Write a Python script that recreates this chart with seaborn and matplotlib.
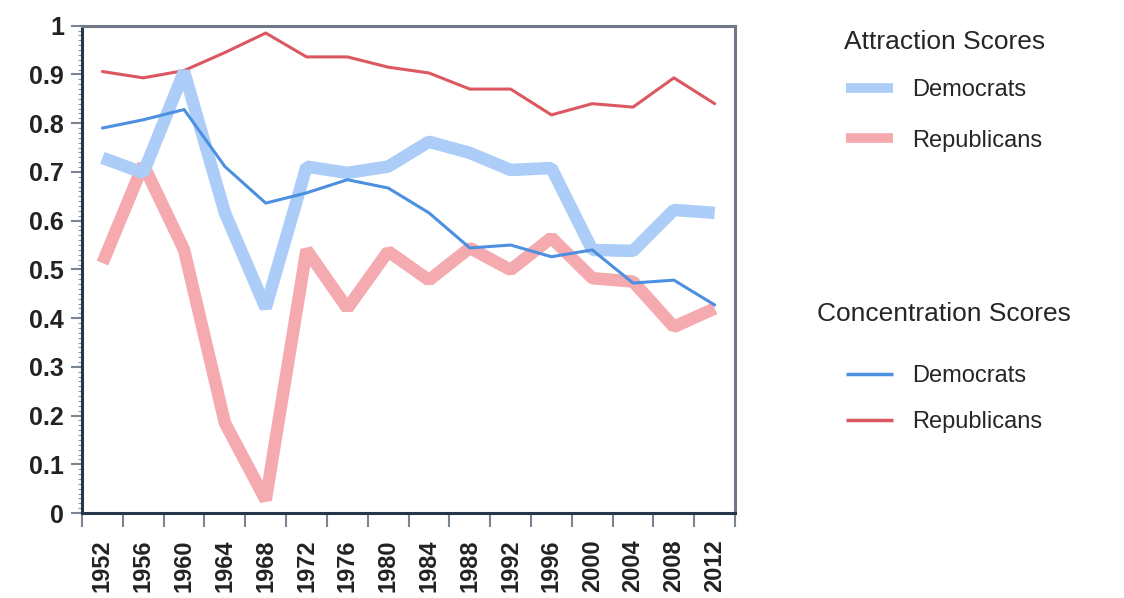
import numpy as np
import pandas as pd
import matplotlib
matplotlib.use("Agg")
import matplotlib.pyplot as plt
from matplotlib.lines import Line2D
from matplotlib.ticker import MultipleLocator, FuncFormatter
import seaborn as sns

years = [1952, 1956, 1960, 1964, 1968, 1972, 1976, 1980,
         1984, 1988, 1992, 1996, 2000, 2004, 2008, 2012]

attr_dem = [0.729, 0.698, 0.906, 0.616, 0.421, 0.711, 0.698, 0.711,
            0.762, 0.739, 0.704, 0.708, 0.540, 0.538, 0.622, 0.616]
attr_rep = [0.513, 0.715, 0.540, 0.185, 0.027, 0.540, 0.420, 0.537,
            0.478, 0.544, 0.499, 0.565, 0.482, 0.475, 0.382, 0.420]
conc_dem = [0.790, 0.807, 0.828, 0.711, 0.636, 0.657, 0.684, 0.667,
            0.616, 0.544, 0.550, 0.526, 0.540, 0.472, 0.478, 0.427]
conc_rep = [0.906, 0.893, 0.908, 0.945, 0.985, 0.936, 0.936, 0.915,
            0.903, 0.870, 0.870, 0.817, 0.840, 0.833, 0.893, 0.840]

df = pd.DataFrame({"year": years, "attr_dem": attr_dem, "attr_rep": attr_rep,
                   "conc_dem": conc_dem, "conc_rep": conc_rep})

sns.set_style("white")
plt.rcParams['font.family'] = ['Liberation Sans', 'DejaVu Sans']

BLUE_LIGHT = "#abcdf7"
PINK_LIGHT = "#f4aaae"
BLUE = "#4d8fe0"
RED = "#dc5860"

fig = plt.figure(figsize=(11.24, 5.98), dpi=100)
ax = fig.add_axes([0.073, 0.142, 0.581, 0.815])

thick = dict(linewidth=9, solid_capstyle="butt", solid_joinstyle="bevel", legend=False)
thin = dict(linewidth=2.2, legend=False)
sns.lineplot(data=df, x="year", y="attr_rep", ax=ax, color=PINK_LIGHT, **thick)
sns.lineplot(data=df, x="year", y="conc_rep", ax=ax, color=RED, **thin)
sns.lineplot(data=df, x="year", y="attr_dem", ax=ax, color=BLUE_LIGHT, **thick)
sns.lineplot(data=df, x="year", y="conc_dem", ax=ax, color=BLUE, **thin)

ax.set_xlim(1950, 2014)
ax.set_ylim(0, 1)
ax.set_xlabel("")
ax.set_ylabel("")

# year labels sit between the boundary ticks
ax.set_xticks(years)
ax.set_xticklabels([str(y) for y in years], rotation=90, fontweight="bold")
ax.xaxis.set_minor_locator(MultipleLocator(4, offset=2))
ax.tick_params(axis="x", which="major", length=0, pad=19, labelsize=17, labelcolor="#222222")
ax.tick_params(axis="x", which="minor", length=10, width=1.5, color="#7a8594", bottom=True)

ax.yaxis.set_major_locator(MultipleLocator(0.1))
ax.yaxis.set_minor_locator(MultipleLocator(0.01))
ax.yaxis.set_major_formatter(FuncFormatter(lambda v, p: "0" if abs(v) < 1e-9 else ("1" if abs(v - 1) < 1e-9 else f"{v:.1f}")))
ax.tick_params(axis="y", which="major", length=8, width=1.5, color="#7a8594",
               pad=5, labelsize=18, left=True, labelcolor="#222222")
ax.tick_params(axis="y", which="minor", length=3, width=0.8, color="#8a93a0", left=True)
for lbl in ax.get_yticklabels():
    lbl.set_fontweight("bold")

for side in ["left", "bottom"]:
    ax.spines[side].set_color("#27364a")
    ax.spines[side].set_linewidth(2.2)
for side in ["top", "right"]:
    ax.spines[side].set_color("#6f7987")
    ax.spines[side].set_linewidth(2.2)

attr_handles = [Line2D([], [], color=BLUE_LIGHT, linewidth=7, solid_capstyle="butt"),
                Line2D([], [], color=PINK_LIGHT, linewidth=7, solid_capstyle="butt")]
conc_handles = [Line2D([], [], color=BLUE, linewidth=2.5, solid_capstyle="butt"),
                Line2D([], [], color=RED, linewidth=2.5, solid_capstyle="butt")]

leg1 = fig.legend(attr_handles, ["Democrats", "Republicans"], title="Attraction Scores",
                  loc="upper center", bbox_to_anchor=(0.84, 0.985), frameon=False,
                  fontsize=17, title_fontsize=19, handlelength=2.0, labelspacing=1.2)
leg2 = fig.legend(conc_handles, ["Democrats", "Republicans"], title="Concentration Scores",
                  loc="upper center", bbox_to_anchor=(0.84, 0.53), frameon=False,
                  fontsize=17, title_fontsize=19, handlelength=2.0, labelspacing=1.0)
leg1._legend_box.sep = 18
leg2._legend_box.sep = 28

fig.savefig("out.png", dpi=100)
